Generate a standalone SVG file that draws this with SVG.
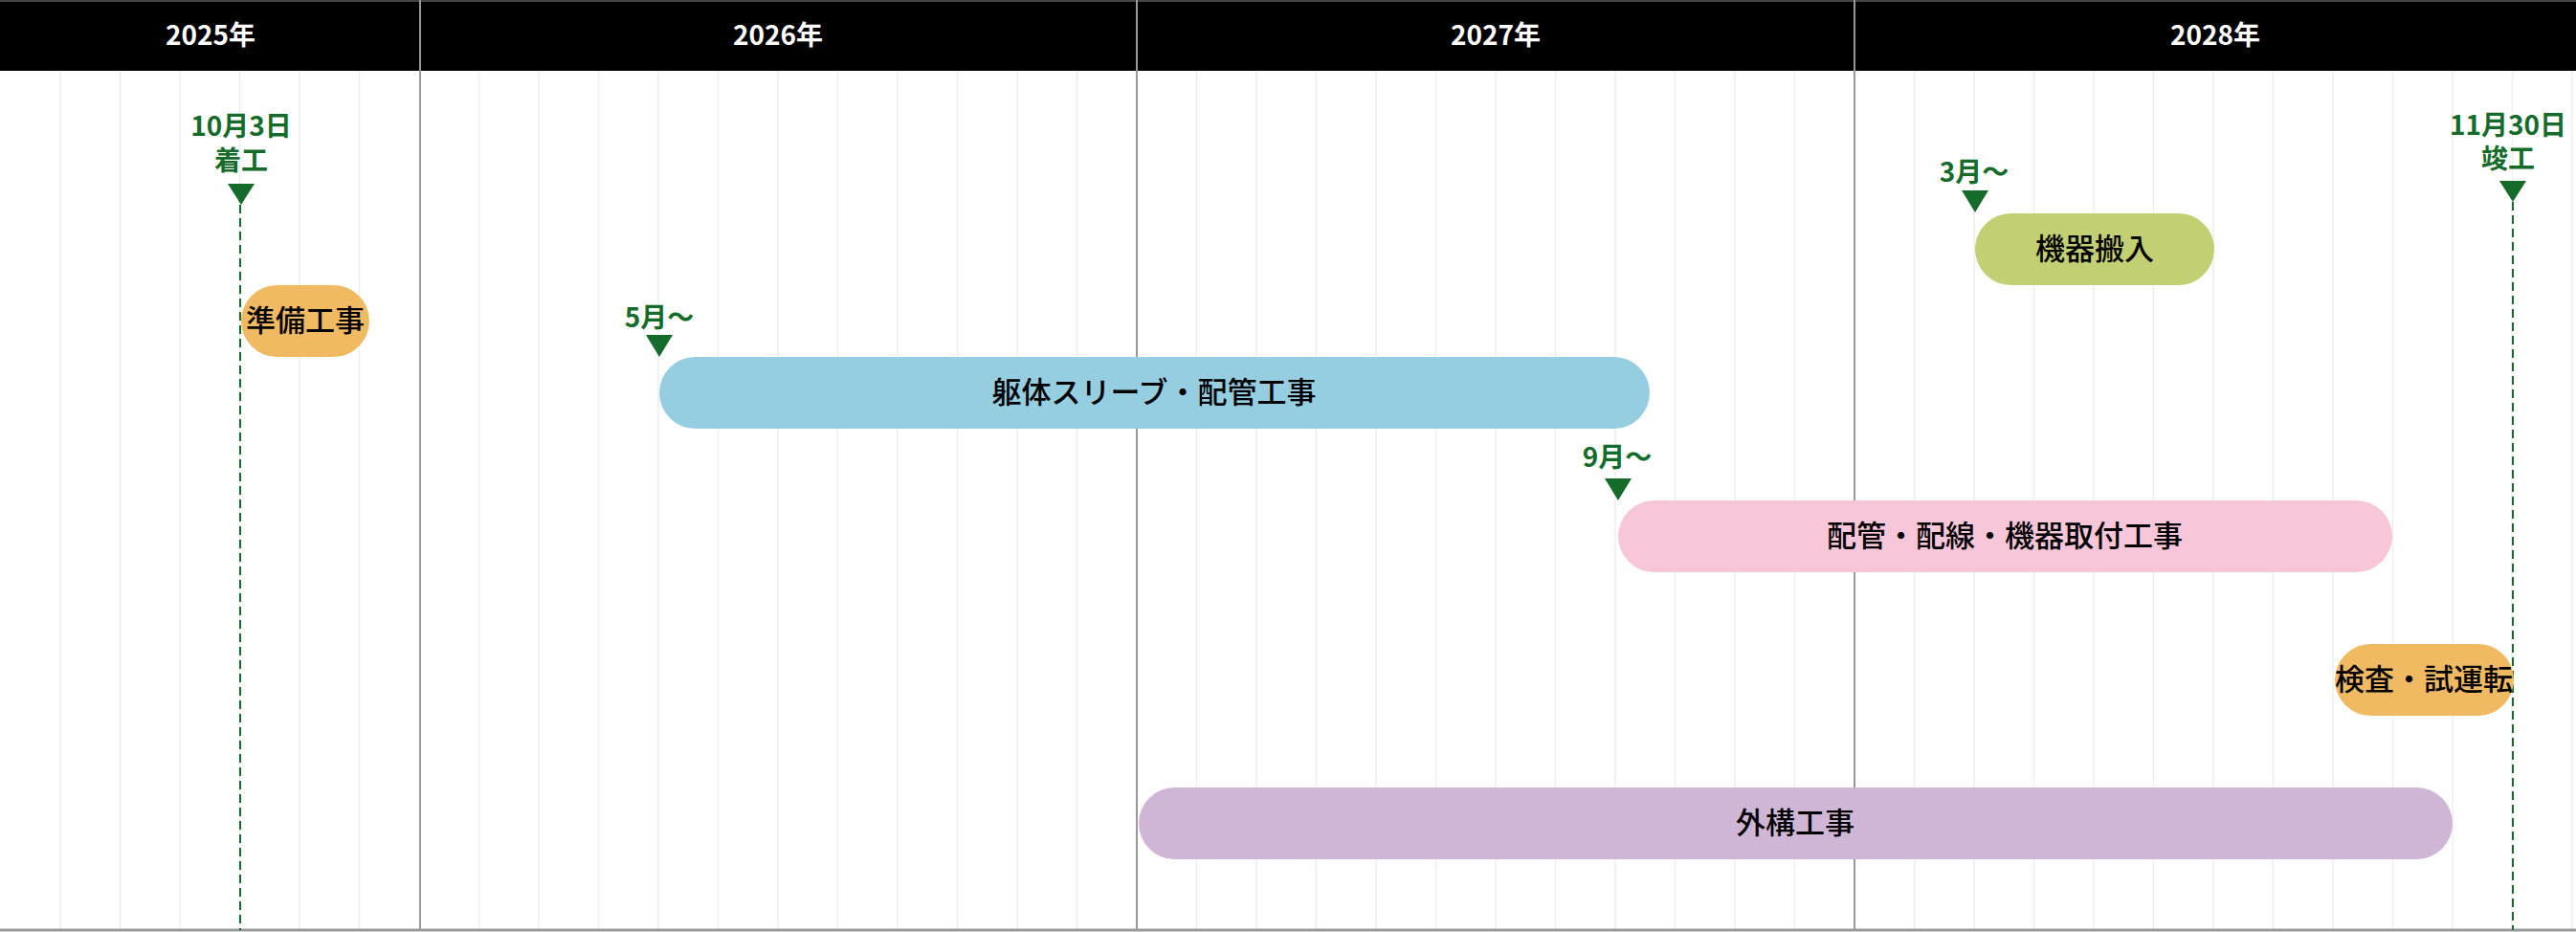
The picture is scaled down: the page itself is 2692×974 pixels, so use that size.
<svg xmlns="http://www.w3.org/2000/svg" width="2692" height="974" viewBox="0 0 2692 974">
<defs>
<style>
.grid{stroke:#EEEEEE;stroke-width:1.5}
.year{stroke:#999999;stroke-width:2}
.hdr{fill:#FFFFFF;font-family:"Noto Sans CJK JP","Noto Sans",sans-serif;font-weight:700;font-size:28px;text-anchor:middle}
.mk{fill:#146B2A;font-family:"Noto Sans CJK JP","Noto Sans",sans-serif;font-weight:700;font-size:28px;text-anchor:middle}
.tri{fill:#146B2A}
.dash{stroke:#146B2A;stroke-width:2;stroke-dasharray:9 5;fill:none}
.bl{fill:#000000;font-family:"Noto Sans CJK JP","Noto Sans",sans-serif;font-weight:500;font-size:31px;text-anchor:middle}
</style>
</defs>
<rect x="0" y="0" width="2692" height="974" fill="#FFFFFF"/>
<g id="grid">
<path class="grid" d="M63,74V972M125.5,74V972M188,74V972M250.5,74V972M313,74V972M375.5,74V972M500.5,74V972M563,74V972M625.5,74V972M688,74V972M750.5,74V972M813,74V972M875.5,74V972M938,74V972M1000.5,74V972M1063,74V972M1125.5,74V972M1250.5,74V972M1313,74V972M1375.5,74V972M1438,74V972M1500.5,74V972M1563,74V972M1625.5,74V972M1688,74V972M1750.5,74V972M1813,74V972M1875.5,74V972M2000.5,74V972M2063,74V972M2125.5,74V972M2188,74V972M2250.5,74V972M2313,74V972M2375.5,74V972M2438,74V972M2500.5,74V972M2563,74V972M2625.5,74V972M2688,74V972"/>
</g>
<g id="header">
<rect x="0" y="0" width="2692" height="74" fill="#000000"/>
<line x1="0" y1="1" x2="2692" y2="1" stroke="#444444" stroke-width="2"/>
<text class="hdr" x="220" y="47">2025年</text>
<text class="hdr" x="813" y="47">2026年</text>
<text class="hdr" x="1563" y="47">2027年</text>
<text class="hdr" x="2315" y="47">2028年</text>
</g>
<g id="yearlines">
<path class="year" d="M439,0V972M1188,0V972M1938,0V972"/>
<line x1="0" y1="972" x2="2692" y2="972" stroke="#999999" stroke-width="3"/>
</g>
<g id="connectors">
<line class="dash" x1="251" y1="214" x2="251" y2="972"/>
<line class="dash" x1="2626" y1="211" x2="2626" y2="972"/>
</g>
<g id="bar-junbi">
<rect x="252" y="298" width="134" height="75" rx="37.5" fill="#F0BA62"/>
<text class="bl" x="319" y="346">準備工事</text>
</g>
<g id="bar-kutai">
<rect x="689" y="373" width="1035" height="75" rx="37.5" fill="#95CEE0"/>
<text class="bl" x="1206" y="421">躯体スリーブ・配管工事</text>
</g>
<g id="bar-kiki">
<rect x="2064" y="223" width="250" height="75" rx="37.5" fill="#C2CF72"/>
<text class="bl" x="2189" y="271">機器搬入</text>
</g>
<g id="bar-haikan">
<rect x="1691" y="523" width="809" height="75" rx="37.5" fill="#F7C6D9"/>
<text class="bl" x="2095" y="571">配管・配線・機器取付工事</text>
</g>
<g id="bar-kensa">
<rect x="2440" y="673" width="187" height="75" rx="37.5" fill="#F0BA62"/>
<text class="bl" x="2533" y="721">検査・試運転</text>
</g>
<g id="bar-gaiko">
<rect x="1190" y="823" width="1373" height="75" rx="37.5" fill="#CFB6D6"/>
<text class="bl" x="1876" y="871">外構工事</text>
</g>
<g id="m-start">
<text class="mk" x="252" y="142">10月3日</text>
<text class="mk" x="252" y="178">着工</text>
<polygon class="tri" points="238,192 266,192 252,214"/>
</g>
<g id="m-end">
<text class="mk" x="2621" y="141">11月30日</text>
<text class="mk" x="2621" y="176">竣工</text>
<polygon class="tri" points="2612,189 2640,189 2626,211"/>
</g>
<g id="m-may">
<text class="mk" x="689" y="342">5月～</text>
<polygon class="tri" points="675,350 703,350 689,373"/>
</g>
<g id="m-mar">
<text class="mk" x="2063" y="190">3月～</text>
<polygon class="tri" points="2050,199 2078,199 2064,222"/>
</g>
<g id="m-sep">
<text class="mk" x="1690" y="488">9月～</text>
<polygon class="tri" points="1677,500 1705,500 1691,523"/>
</g>
</svg>
